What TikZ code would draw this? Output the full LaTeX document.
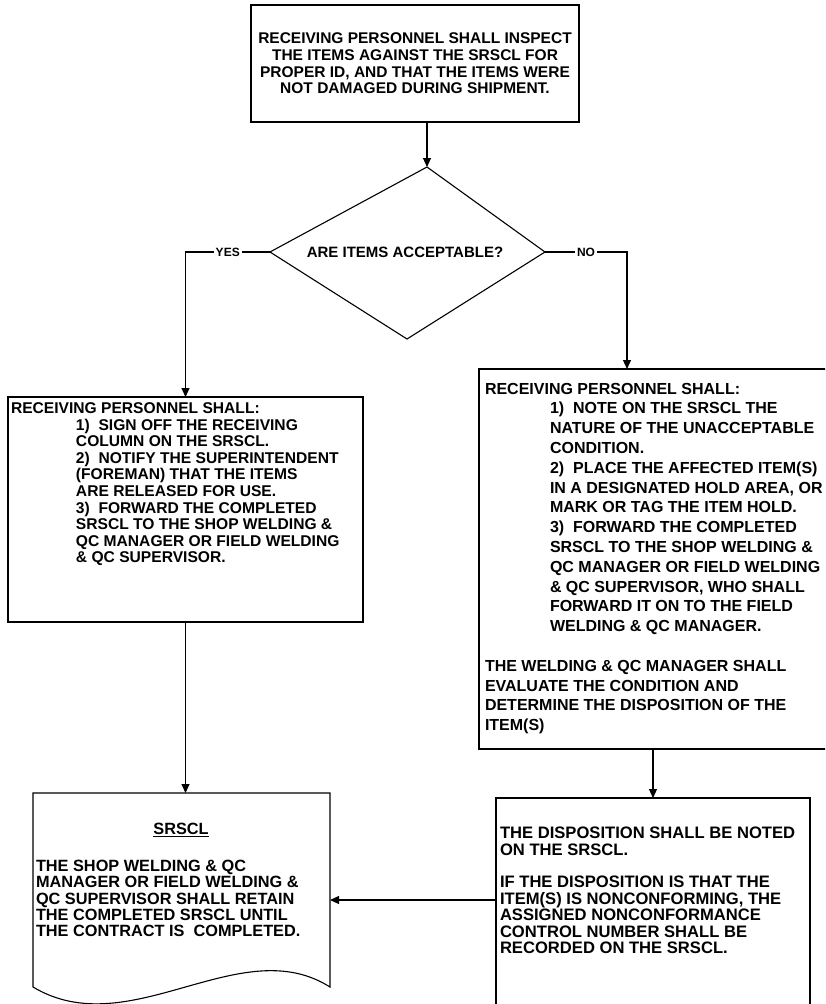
\documentclass[tikz,border=0pt]{standalone}
\usepackage{fontspec}
\setmainfont{Liberation Sans}
\usetikzlibrary{arrows.meta}
\newcommand\itemind{\hspace*{65pt}}
\begin{document}
\begin{tikzpicture}[x=1pt,y=-1pt,
  every node/.style={font=\bfseries\fontsize{15}{16.5}\selectfont, inner sep=0pt, outer sep=0pt},
  box/.style={draw, line width=1.1pt, anchor=north west},
  body/.style={anchor=north west, align=left},
  link/.style={draw, line width=1.1pt},
  flow/.style={link, -{Triangle[length=9pt,width=8pt]}},
  lbl/.style={fill=white, inner xsep=2pt, inner ysep=1pt, font=\bfseries\fontsize{12}{12}\selectfont}]
\clip (0,0) rectangle (825,1004);
\fill[white] (0,0) rectangle (825,1004);

% inspection step
\node[box, anchor=center, minimum width=328pt, minimum height=117pt, align=center,
      font=\bfseries\fontsize{15.5}{16.7}\selectfont] (inspect) at (415,63.5)
  {RECEIVING PERSONNEL SHALL INSPECT\\THE ITEMS AGAINST THE SRSCL FOR\\PROPER ID, AND THAT THE ITEMS WERE\\NOT DAMAGED DURING SHIPMENT.};

% decision
\coordinate (dT) at (427,167);
\coordinate (dL) at (270,252);
\coordinate (dB) at (407,339);
\coordinate (dR) at (545,252);
\draw[link, line join=miter] (dT) -- (dR) -- (dB) -- (dL) -- cycle;
\node (question) at (405,252) {ARE ITEMS ACCEPTABLE?};

% accepted branch
\node[box, minimum width=355pt, minimum height=225pt] (accept) at (8,397) {};
\node[body, font=\bfseries\fontsize{15.6}{16.6}\selectfont] (accepttext) at (11,402.5) {RECEIVING PERSONNEL SHALL:\\
\itemind 1)~~SIGN OFF THE RECEIVING\\
\itemind COLUMN ON THE SRSCL.\\
\itemind 2)~~NOTIFY THE SUPERINTENDENT\\
\itemind (FOREMAN) THAT THE ITEMS\\
\itemind ARE RELEASED FOR USE.\\
\itemind 3)~~FORWARD THE COMPLETED\\
\itemind SRSCL TO THE SHOP WELDING \&\\
\itemind QC MANAGER OR FIELD WELDING\\
\itemind \& QC SUPERVISOR.};

% rejected branch
\node[box, minimum width=360pt, minimum height=380pt] (reject) at (479,369) {};
\coordinate (rejectin) at (627,369);
\node[body, font=\bfseries\fontsize{16}{19.8}\selectfont] (rejecttext) at (485,383) {RECEIVING PERSONNEL SHALL:\\
\itemind 1)~~NOTE ON THE SRSCL THE\\
\itemind NATURE OF THE UNACCEPTABLE\\
\itemind CONDITION.\\
\itemind 2)~~PLACE THE AFFECTED ITEM(S)\\
\itemind IN A DESIGNATED HOLD AREA, OR\\
\itemind MARK OR TAG THE ITEM HOLD.\\
\itemind 3)~~FORWARD THE COMPLETED\\
\itemind SRSCL TO THE SHOP WELDING \&\\
\itemind QC MANAGER OR FIELD WELDING\\
\itemind \& QC SUPERVISOR, WHO SHALL\\
\itemind FORWARD IT ON TO THE FIELD\\
\itemind WELDING \& QC MANAGER.\\[19.8pt]
THE WELDING \& QC MANAGER SHALL\\
EVALUATE THE CONDITION AND\\
DETERMINE THE DISPOSITION OF THE\\
ITEM(S)};

% disposition
\node[box, minimum width=314pt, minimum height=230pt] (dispo) at (496,798) {};
\coordinate (dispoout) at (496,900);
\node[body, font=\bfseries\fontsize{16.6}{16.4}\selectfont] (dispotext) at (500,827) {THE DISPOSITION SHALL BE NOTED\\
ON THE SRSCL.\\[16.4pt]
IF THE DISPOSITION IS THAT THE\\
ITEM(S) IS NONCONFORMING, THE\\
ASSIGNED NONCONFORMANCE\\
CONTROL NUMBER SHALL BE\\
RECORDED ON THE SRSCL.};

% record document
\node[anchor=north west, minimum width=297pt, minimum height=194pt] (record) at (33,793) {};
\draw[link, line join=miter] (record.south west) -- (record.north west) -- (record.north east) -- (record.south east)
  .. controls (240,930) and (130,1045) .. (record.south west);
\node[font=\bfseries\fontsize{16.3}{16.4}\selectfont] (recordtitle) at (181,830) {\underline{SRSCL}};
\node[body, font=\bfseries\fontsize{16.3}{16.4}\selectfont] (recordtext) at (36,860) {THE SHOP WELDING \& QC\\
MANAGER OR FIELD WELDING \&\\
QC SUPERVISOR SHALL RETAIN\\
THE COMPLETED SRSCL UNTIL\\
THE CONTRACT IS~~COMPLETED.};

% connectors
\draw[flow] (dT |- inspect.south) -- (dT);
\draw[flow] (dL) -- node[lbl] {YES} (dL -| accept.north) -- (accept.north);
\draw[flow] (dR) -- node[lbl] {NO} (dR -| rejectin) -- (rejectin);
\draw[flow] (accept.south) -- (accept.south |- record.north);
\draw[flow] (dispo.north |- reject.south) -- (dispo.north);
\draw[flow] (dispoout) -- (dispoout -| record.east);
\end{tikzpicture}
\end{document}
